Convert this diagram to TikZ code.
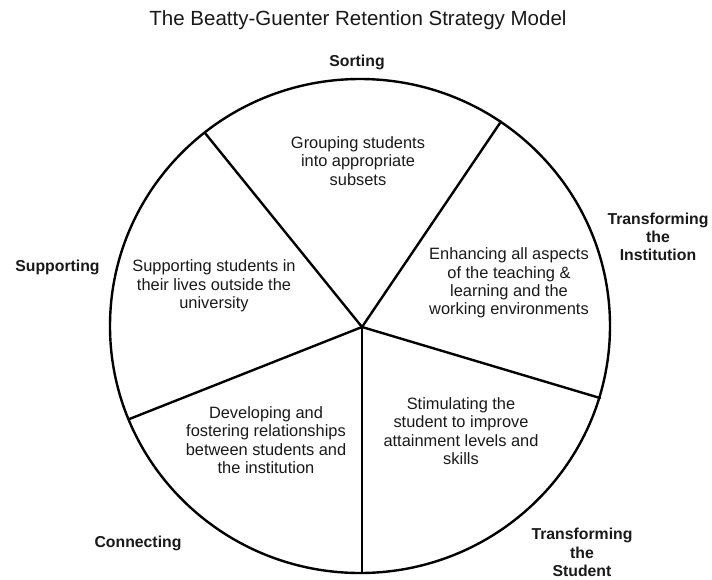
\documentclass[tikz,border=0pt]{standalone}
\usepackage{fontspec}
\setmainfont{Liberation Sans}
\begin{document}
\begin{tikzpicture}[x=1pt,y=-1pt,
  ring/.style={line width=2.4pt,draw=black},
  spoke/.style={line width=2.4pt,draw=black},
  inner/.style={align=center,inner sep=0pt,font=\fontsize{16.4}{18.3}\selectfont,text=black!90},
  outer/.style={align=center,inner sep=0pt,font=\fontsize{15.8}{18.3}\selectfont\bfseries,text=black!90},
  titletext/.style={inner sep=0pt,font=\fontsize{20.5}{24}\selectfont,text=black!90}]
\useasboundingbox (0,0) rectangle (712,579);
\fill[white] (0,0) rectangle (712,579);

\node[titletext] (title) at (358,20) {The Beatty-Guenter Retention Strategy Model};

\coordinate (ctr) at (360,326);
\draw[ring] (ctr) ellipse [x radius=250pt, y radius=247pt];

\coordinate (hub) at (362,327);
\coordinate (e1) at (205,133);
\coordinate (e2) at (501,121.5);
\coordinate (e3) at (600,398);
\coordinate (e4) at (362,573);
\coordinate (e5) at (129.4,419);
\foreach \e in {e1,e2,e3,e4,e5} \draw[spoke,line cap=round] (hub) -- (\e);

\node[inner] (grp) at (358,161) {Grouping students\\into appropriate\\subsets};
\node[inner] (sup) at (214,286) {Supporting students in\\their lives outside the\\university};
\node[inner] (enh) at (509,283) {Enhancing all aspects\\of the teaching \&\\learning and the\\working environments};
\node[inner] (dev) at (266,440) {Developing and\\fostering relationships\\between students and\\the institution};
\node[inner] (stm) at (461,431) {Stimulating the\\student to improve\\attainment levels and\\skills};

\node[outer] (sorting) at (357,62) {Sorting};
\node[outer] (supporting) at (57.5,267) {Supporting};
\node[outer] (tinst) at (658,237) {Transforming\\the\\Institution};
\node[outer] (connecting) at (138,543) {Connecting};
\node[outer] (tstud) at (582,552.5) {Transforming\\the\\Student};
\end{tikzpicture}
\end{document}
